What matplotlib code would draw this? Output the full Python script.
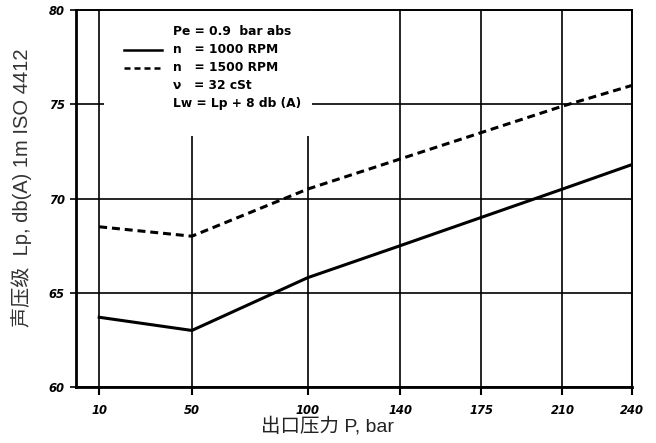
import matplotlib
matplotlib.use("Agg")
import matplotlib.pyplot as plt
from matplotlib.patches import Rectangle
from matplotlib.lines import Line2D

# outlet pressure (bar) and sound pressure level (dB(A))
pressure = [10, 50, 100, 140, 175, 210, 240]
lp_1000 = [63.7, 63.0, 65.8, 67.5, 69.0, 70.5, 71.8]
lp_1500 = [68.5, 68.0, 70.5, 72.1, 73.5, 74.9, 76.0]

x_ticks = [10, 50, 100, 140, 175, 210, 240]
y_ticks = [60, 65, 70, 75, 80]

note_lines = ["Pe = 0.9  bar abs",
              "n   = 1000 RPM",
              "n   = 1500 RPM",
              "\u03bd   = 32 cSt",
              "Lw = Lp + 8 db (A)"]

fig = plt.figure(figsize=(6.56, 4.43), dpi=100)
ax = fig.add_axes([0.1159, 0.1264, 0.8475, 0.851])

ax.plot(pressure, lp_1000, color="black", lw=2.2, solid_joinstyle="miter", zorder=4)
ax.plot(pressure, lp_1500, color="black", lw=2.2, dashes=(2.6, 1.6), zorder=4)

ax.set_xlim(0, 240)
ax.set_ylim(60, 80)
ax.set_xticks(x_ticks)
ax.set_yticks(y_ticks)
ax.grid(True, color="black", lw=1.2, zorder=1)
ax.set_axisbelow(True)

tick_font = dict(family="DejaVu Sans", weight="bold", style="italic", size=8.3)
ax.set_xticklabels([str(v) for v in x_ticks], **tick_font)
ax.set_yticklabels([str(v) for v in y_ticks], **tick_font)
ax.tick_params(axis="x", direction="out", length=6, width=1.5, pad=6)
ax.tick_params(axis="y", direction="out", length=4, width=1.2, pad=4)

for side in ["left", "bottom"]:
    ax.spines[side].set_linewidth(2.0)
for side in ["top", "right"]:
    ax.spines[side].set_linewidth(1.4)

# white panel behind the operating notes
ax.add_patch(Rectangle((12, 73.3), 90, 6.7, facecolor="white", edgecolor="none", zorder=2))

note_font = dict(family="DejaVu Sans", weight="bold", size=8.8, zorder=5)
for i, line in enumerate(note_lines):
    ax.text(42, 78.85 - i * 0.955, line, va="center", ha="left", **note_font)

# line samples for the two speeds
ax.add_line(Line2D([20.5, 37], [77.9, 77.9], color="black", lw=1.8, zorder=5))
ax.add_line(Line2D([20.5, 37], [76.95, 76.95], color="black", lw=1.8, dashes=(2.4, 1.6), zorder=5))

label_family = ["Liberation Sans", "Noto Sans CJK SC"]
ax.set_xlabel("出口压力 P, bar", family=label_family, size=14, color="#222222")
ax.xaxis.set_label_coords(0.453, -0.08)
ax.set_ylabel("声压级  Lp, db(A) 1m ISO 4412", family=label_family, size=14.5, color="#333333")
ax.yaxis.set_label_coords(-0.08, 0.528)

fig.savefig("out.png", dpi=100)
